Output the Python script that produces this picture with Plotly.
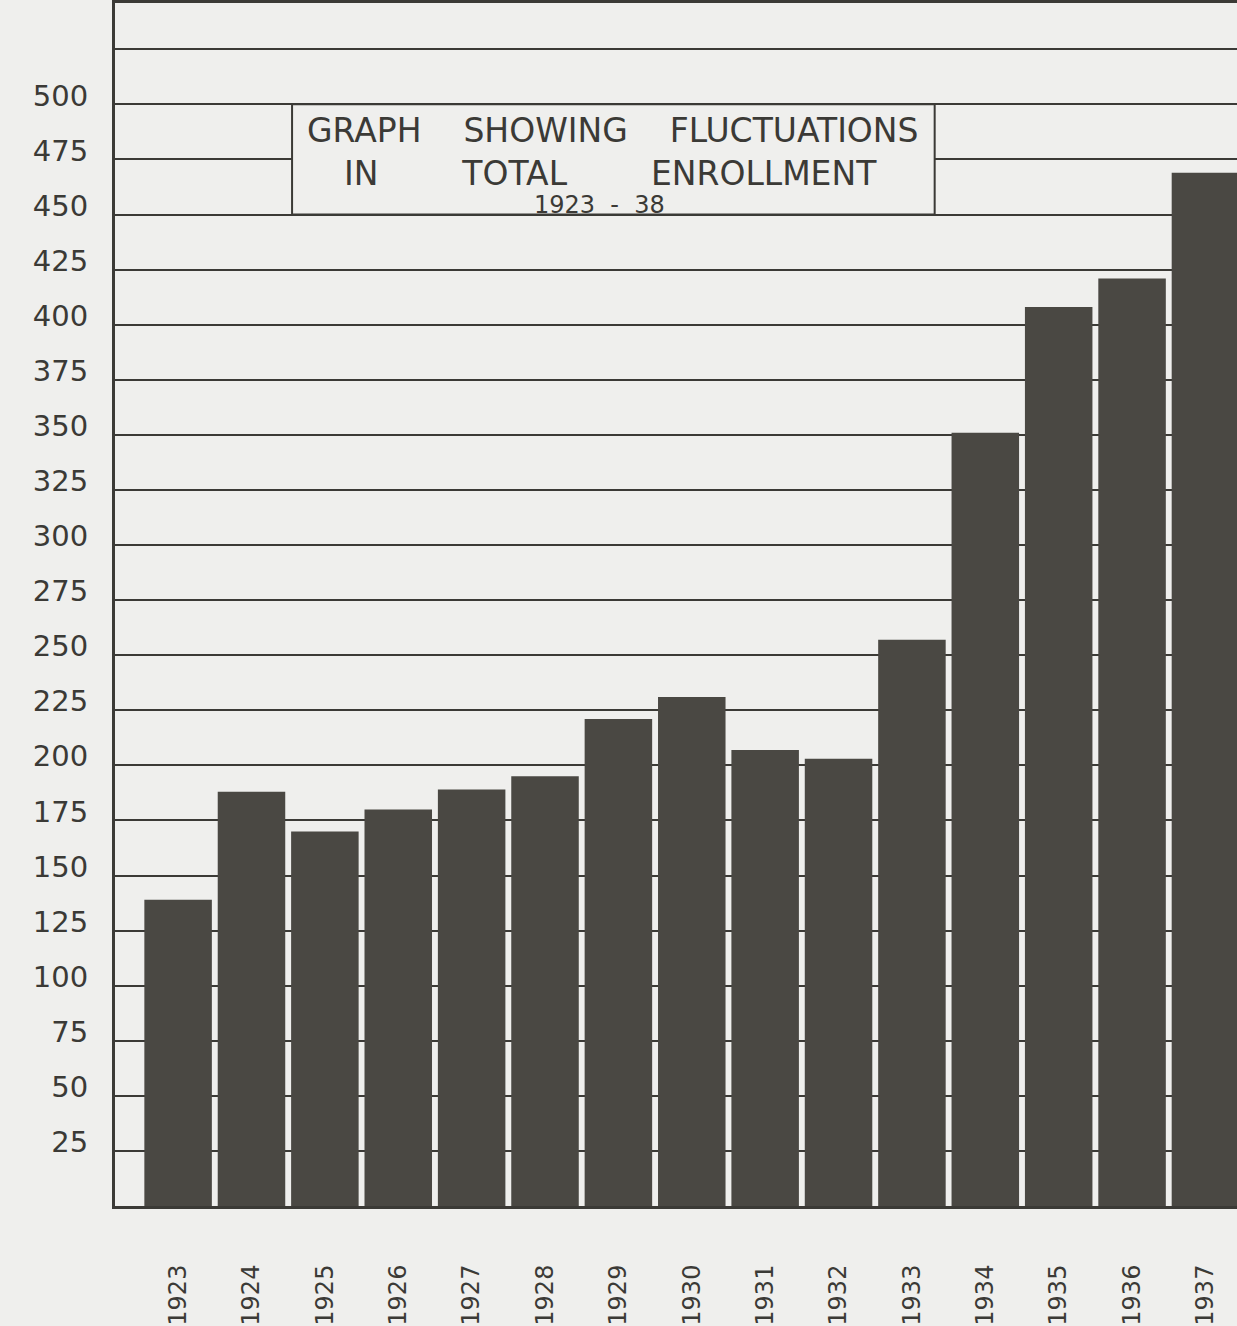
import plotly.graph_objects as go

years = ["1923", "1924", "1925", "1926", "1927", "1928", "1929", "1930",
         "1931", "1932", "1933", "1934", "1935", "1936", "1937"]
enrollment = [139, 188, 170, 180, 189, 195, 221, 231, 207, 203, 257, 351, 408, 421, 469]

ytick_vals = [25, 50, 75, 100, 125, 150, 175, 200, 225, 250, 275, 300, 325,
              350, 375, 400, 425, 450, 475, 500, 525, 550]
ytick_text = ["25", "50", "75", "100", "125", "150", "175", "200", "225", "250",
              "275", "300", "325", "350", "375", "400", "425", "450", "475", "500", "", ""]

BG = "#efefed"
INK = "#3b3a36"
BAR = "#4a4843"
NB = "\u00a0"

fig = go.Figure()
fig.add_trace(go.Bar(
    x=list(range(len(years))), y=enrollment,
    marker=dict(color=BAR, line=dict(width=0)),
    width=0.92, hoverinfo="x+y",
))

fig.update_layout(
    width=1237, height=1326,
    margin=dict(l=115, r=0, t=0, b=116),
    paper_bgcolor=BG, plot_bgcolor=BG,
    showlegend=False,
    font=dict(family="DejaVu Sans", color=INK),
)

fig.update_xaxes(
    range=[-0.86, 14.43],
    tickmode="array", tickvals=list(range(len(years))), ticktext=years,
    tickangle=-90, tickfont=dict(size=24, color=INK, family="DejaVu Sans"),
    ticks="", ticklabelstandoff=46,
    showgrid=False, zeroline=False,
    showline=True, linecolor=INK, linewidth=3, mirror=True,
)
fig.update_yaxes(
    range=[0, 546],
    tickmode="array", tickvals=ytick_vals, ticktext=ytick_text,
    tickfont=dict(size=29, color=INK, family="DejaVu Sans"),
    ticks="", ticklabelstandoff=18, ticklabelshift=-9,
    showgrid=True, gridcolor=INK, gridwidth=2,
    zeroline=False,
    showline=True, linecolor=INK, linewidth=3,
)

# title box
fig.add_shape(type="rect", xref="x", yref="y", x0=1.553, x1=10.31, y0=450, y1=500,
              fillcolor=BG, line=dict(color=INK, width=2), layer="above")

fig.add_annotation(xref="paper", yref="paper", x=(612 - 115) / 1122, y=1 - 128 / 1210,
                   text="GRAPH" + NB * 4 + "SHOWING" + NB * 4 + "FLUCTUATIONS",
                   showarrow=False, font=dict(size=33, color=INK, family="DejaVu Sans"),
                   xanchor="center", yanchor="middle")
fig.add_annotation(xref="paper", yref="paper", x=(610 - 115) / 1122, y=1 - 171 / 1210,
                   text="IN" + NB * 8 + "TOTAL" + NB * 8 + "ENROLLMENT",
                   showarrow=False, font=dict(size=33, color=INK, family="DejaVu Sans"),
                   xanchor="center", yanchor="middle")
fig.add_annotation(xref="paper", yref="paper", x=(599 - 115) / 1122, y=1 - 203 / 1210,
                   text="1923" + NB * 2 + "-" + NB * 2 + "38",
                   showarrow=False, font=dict(size=24, color=INK, family="DejaVu Sans"),
                   xanchor="center", yanchor="middle")

fig.write_html("out.html",
               config={"displayModeBar": False},
               post_script="document.body.style.margin='0';document.body.style.overflow='hidden';")
